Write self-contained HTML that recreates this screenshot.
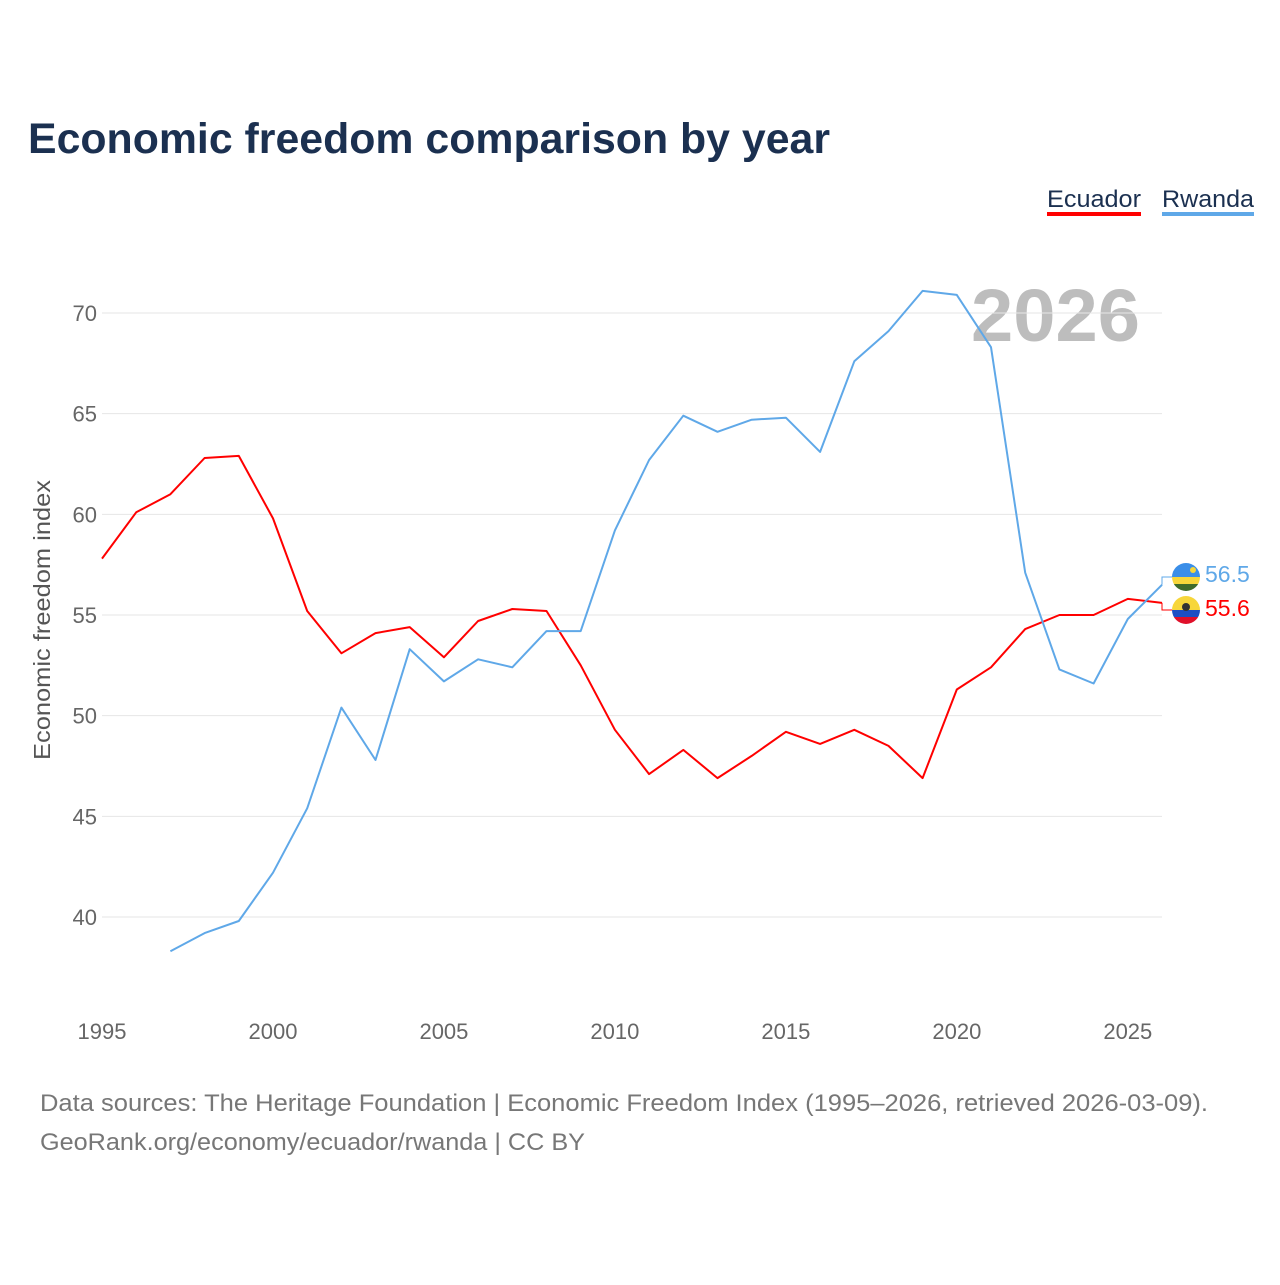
<!DOCTYPE html>
<html><head><meta charset="utf-8"><style>
body{margin:0;background:#fff;width:1280px;height:1280px;overflow:hidden;font-family:"Liberation Sans",sans-serif}
</style></head><body>
<svg id="chart" width="1280" height="1280" xmlns="http://www.w3.org/2000/svg" font-family="Liberation Sans, sans-serif">
<text x="28" y="153" font-size="43" font-weight="bold" fill="#1b3050" textLength="802" lengthAdjust="spacingAndGlyphs">Economic freedom comparison by year</text>
<g><text x="1047" y="207" font-size="24" fill="#1b3050" textLength="94" lengthAdjust="spacingAndGlyphs">Ecuador</text><rect x="1047" y="212" width="94" height="4" fill="#ff0000"/></g>
<g><text x="1162" y="207" font-size="24" fill="#1b3050" textLength="92" lengthAdjust="spacingAndGlyphs">Rwanda</text><rect x="1162" y="212" width="92" height="4" fill="#5fa8e8"/></g>
<text x="971" y="341" font-size="74" font-weight="bold" fill="#bdbdbd" textLength="169" lengthAdjust="spacingAndGlyphs">2026</text>
<text transform="translate(50,760) rotate(-90)" font-size="23" fill="#555" textLength="280" lengthAdjust="spacingAndGlyphs">Economic freedom index</text>
<g id="grid"></g><g id="yticks"></g><g id="xticks"></g><g id="series"></g>
<g>
<clipPath id="cr"><circle cx="1186" cy="577" r="14"/></clipPath>
<g clip-path="url(#cr)"><rect x="1172" y="563" width="28" height="14" fill="#3a8ee8"/><rect x="1172" y="577" width="28" height="7" fill="#f7d63a"/><rect x="1172" y="584" width="28" height="7" fill="#3f6b2a"/><circle cx="1193" cy="570" r="3" fill="#f7d63a"/></g></g>
<g>
<clipPath id="ce"><circle cx="1186" cy="610" r="14"/></clipPath>
<g clip-path="url(#ce)"><rect x="1172" y="596" width="28" height="14" fill="#f7d63a"/><rect x="1172" y="610" width="28" height="7" fill="#1d4fc4"/><rect x="1172" y="617" width="28" height="7" fill="#e0102a"/><circle cx="1186" cy="607" r="4" fill="#333"/></g></g>
<text x="1205" y="582" font-size="23" fill="#5fa8e8">56.5</text>
<text x="1205" y="616" font-size="23" fill="#ff0000">55.6</text>
<text x="40" y="1111" font-size="24" fill="#777" textLength="1168" lengthAdjust="spacingAndGlyphs">Data sources: The Heritage Foundation | Economic Freedom Index (1995–2026, retrieved 2026-03-09).</text>
<text x="40" y="1150" font-size="24" fill="#777" textLength="545" lengthAdjust="spacingAndGlyphs">GeoRank.org/economy/ecuador/rwanda | CC BY</text>
</svg>
<script>
const years=[1995,1996,1997,1998,1999,2000,2001,2002,2003,2004,2005,2006,2007,2008,2009,2010,2011,2012,2013,2014,2015,2016,2017,2018,2019,2020,2021,2022,2023,2024,2025,2026];
const ecuador=[57.8,60.1,61.0,62.8,62.9,59.8,55.2,53.1,54.1,54.4,52.9,54.7,55.3,55.2,52.5,49.3,47.1,48.3,46.9,48.0,49.2,48.6,49.3,48.5,46.9,51.3,52.4,54.3,55.0,55.0,55.8,55.6];
const rwanda=[null,null,38.3,39.2,39.8,42.2,45.4,50.4,47.8,53.3,51.7,52.8,52.4,54.2,54.2,59.2,62.7,64.9,64.1,64.7,64.8,63.1,67.6,69.1,71.1,70.9,68.3,57.1,52.3,51.6,54.8,56.5];
const yTicks=[40,45,50,55,60,65,70];
const xTicks=[1995,2000,2005,2010,2015,2020,2025];
const NS="http://www.w3.org/2000/svg";
const X=y=>102+(y-1995)*(1060/31);
const Y=v=>917-(v-40)*(604/30);
function mk(t,a,p){const e=document.createElementNS(NS,t);for(const k in a)e.setAttribute(k,a[k]);document.getElementById(p).appendChild(e);return e;}
yTicks.forEach(v=>{
 const l=mk('line',{x1:102,x2:1162,y1:Y(v),y2:Y(v),stroke:'#e6e6e6','stroke-width':1},'grid');
 
 
 const t=mk('text',{x:97,y:Y(v)+8,'font-size':22,fill:'#666','text-anchor':'end'},'yticks');
 t.textContent=v;
 
 
});
xTicks.forEach(v=>{
 const t=mk('text',{x:X(v),y:1039,'font-size':22,fill:'#666','text-anchor':'middle'},'xticks');
 t.textContent=v;
 
 
});
function line(data,color,name){
 const pts=[];data.forEach((v,i)=>{if(v!=null)pts.push(X(years[i]).toFixed(1)+','+Y(v).toFixed(1));});
 const p=mk('polyline',{points:pts.join(' '),fill:'none',stroke:color,'stroke-width':2,'stroke-linejoin':'round'},'series');
 
 
}
line(ecuador,'#ff0000','ecuador-line');
line(rwanda,'#5fa8e8','rwanda-line');
const lr=rwanda[rwanda.length-1],le=ecuador[ecuador.length-1];
const c1=mk('polyline',{points:`${X(2026)},${Y(lr)} 1162,577 1172,577`,fill:'none',stroke:'#5fa8e8','stroke-width':1},'series');


const c2=mk('polyline',{points:`${X(2026)},${Y(le)} 1162,610 1172,610`,fill:'none',stroke:'#ff0000','stroke-width':1},'series');


</script>
</body></html>
